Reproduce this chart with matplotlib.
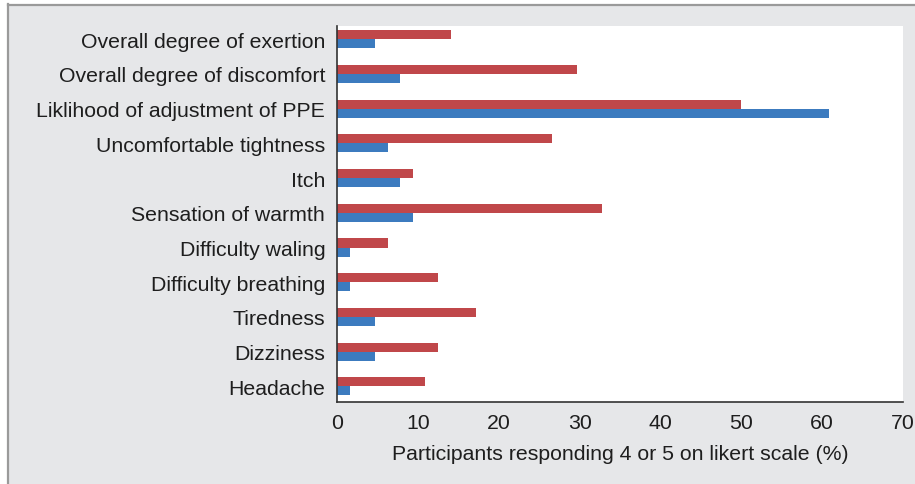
import matplotlib
matplotlib.use("Agg")
import matplotlib.pyplot as plt
from matplotlib.patches import Rectangle
from matplotlib.lines import Line2D
import numpy as np

categories = [
    "Overall degree of exertion",
    "Overall degree of discomfort",
    "Liklihood of adjustment of PPE",
    "Uncomfortable tightness",
    "Itch",
    "Sensation of warmth",
    "Difficulty waling",
    "Difficulty breathing",
    "Tiredness",
    "Dizziness",
    "Headache",
]
red_values = [14.1, 29.7, 50.0, 26.6, 9.4, 32.8, 6.25, 12.5, 17.2, 12.5, 10.9]
blue_values = [4.7, 7.8, 60.9, 6.25, 7.8, 9.4, 1.6, 1.6, 4.7, 4.7, 1.6]
x_ticks = [0, 10, 20, 30, 40, 50, 60, 70]
x_label = "Participants responding 4 or 5 on likert scale (%)"

RED = "#C0474A"
BLUE = "#3C7BBF"
BG = "#E6E7E9"
TXT = "#1E1E1E"
FS = 15.3

W, H = 915, 485
fig = plt.figure(figsize=(W / 100, H / 100), dpi=100)
fig.patch.set_facecolor("white")
plt.rcParams["font.family"] = ["Liberation Sans", "DejaVu Sans"]

# gray panel with border on left/top
fig.patches.append(Rectangle((7 / W, 0), 1 - 7 / W, 1 - 5 / H, transform=fig.transFigure,
                             facecolor=BG, edgecolor="none", zorder=-10))
fig.lines.append(Line2D([7.5 / W, 7.5 / W], [0, 1 - 5 / H], transform=fig.transFigure,
                        color="#9A9A9A", lw=1.6, zorder=-5))
fig.lines.append(Line2D([7.5 / W, 1], [1 - 5.5 / H, 1 - 5.5 / H], transform=fig.transFigure,
                        color="#9A9A9A", lw=1.6, zorder=-5))

left, right, top, bottom = 337, 903, 27, 403
ax = fig.add_axes([left / W, 1 - bottom / H, (right - left) / W, (bottom - top) / H])
ax.set_zorder(5)
ax.set_facecolor("white")

y = np.arange(len(categories))
h = 0.26
ax.barh(y - h / 2, red_values, height=h, color=RED, zorder=2)
ax.barh(y + h / 2, blue_values, height=h, color=BLUE, zorder=2)

ax.set_xlim(0, 70)
ax.set_ylim(10.45, -0.38)
ax.set_xticks(x_ticks)
ax.set_xticklabels([str(t) for t in x_ticks], fontsize=FS, color=TXT)
ax.set_yticks(y)
ax.set_yticklabels(categories, fontsize=FS, color=TXT)
ax.tick_params(axis="both", length=0)
ax.tick_params(axis="x", pad=8)
ax.tick_params(axis="y", pad=8.5)
ax.set_xlabel(x_label, fontsize=FS, color=TXT, labelpad=8.5)

for s in ["top", "right"]:
    ax.spines[s].set_visible(False)
ax.spines["left"].set_color("#333333")
ax.spines["bottom"].set_color("#333333")
ax.spines["left"].set_linewidth(1.2)
ax.spines["bottom"].set_linewidth(1.2)

fig.savefig("out.png", dpi=100)
